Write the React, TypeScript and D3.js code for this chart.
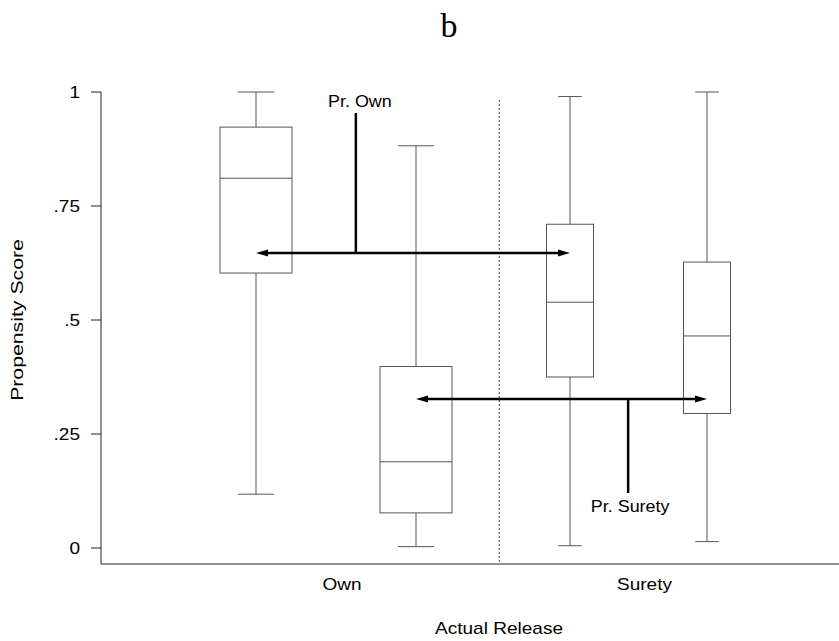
import React from "react";
import * as d3 from "d3";

// ---- data ----
const groups = ["Own", "Surety"];
const seriesNames = ["Pr. Own", "Pr. Surety"];
const boxGroup = ["Own", "Own", "Surety", "Surety"];
const boxSeries = ["Pr. Own", "Pr. Surety", "Pr. Own", "Pr. Surety"];
const whiskerLow = [0.118, 0.003, 0.005, 0.014];
const q1 = [0.603, 0.077, 0.375, 0.295];
const median = [0.811, 0.189, 0.539, 0.465];
const q3 = [0.923, 0.398, 0.71, 0.627];
const whiskerHigh = [1.0, 0.882, 0.99, 1.0];
const arrowValues = [0.647, 0.327]; // Pr. Own, Pr. Surety
const yTicks = [0, 0.25, 0.5, 0.75, 1];
const yTickLabels = ["0", ".25", ".5", ".75", "1"];

// ---- layout ----
const W = 839;
const H = 641;
const axisX = 101;
const axisBottom = 564;
const SX = 1.12; // horizontal text stretch
const FONT = "'Liberation Sans', Arial, Helvetica, sans-serif";
const innerHalf: Record<string, number> = { Own: 80, Surety: 68.5 };
const boxWidth: Record<string, number> = { Own: 72, Surety: 47 };

const y = d3.scaleLinear().domain([0, 1]).range([548, 92]);
const xGroup = d3.scaleBand().domain(groups).range([184.75, 789.75]);
const groupCenter = (g: string) => (xGroup(g) as number) + xGroup.bandwidth() / 2;
const boxX = (i: number) => {
  const g = boxGroup[i];
  const inner = d3.scalePoint().domain(seriesNames).range([-innerHalf[g], innerHalf[g]]);
  return groupCenter(g) + (inner(boxSeries[i]) as number);
};

function T(props: { x: number; y: number; anchor?: string; size?: number; rotate?: number; children: any; family?: string; sx?: number }) {
  const { x, y: yy, anchor = "middle", size = 17, rotate = 0, family = FONT, sx = SX } = props;
  return (
    <text
      transform={`translate(${x},${yy}) rotate(${rotate}) scale(${sx},1)`}
      textAnchor={anchor}
      fontFamily={family}
      fontSize={size}
      fill="#000"
    >
      {props.children}
    </text>
  );
}

function Arrow({ x1, x2, yv }: { x1: number; x2: number; yv: number }) {
  const len = 12;
  const hw = 3.5;
  return (
    <g>
      <line x1={x1 + len - 1} x2={x2 - len + 1} y1={yv} y2={yv} stroke="#000" strokeWidth={2.5} />
      <path d={`M${x1},${yv} L${x1 + len},${yv - hw} L${x1 + len},${yv + hw} Z`} fill="#000" />
      <path d={`M${x2},${yv} L${x2 - len},${yv - hw} L${x2 - len},${yv + hw} Z`} fill="#000" />
    </g>
  );
}

export default function App() {
  const idx = d3.range(boxGroup.length);
  const ownRightEdge = boxX(1) + boxWidth["Own"] / 2;
  const suretyLeftEdge = boxX(2) - boxWidth["Surety"] / 2;
  const dividerX = (ownRightEdge + suretyLeftEdge) / 2;

  // arrows: connect same-series boxes across groups
  const ownA = { x1: boxX(0), x2: boxX(2), yv: y(arrowValues[0]) };
  const surA = { x1: boxX(1), x2: boxX(3), yv: y(arrowValues[1]) };
  const ownStemX = ownA.x1 + (ownA.x2 - ownA.x1) * 0.318;
  const surStemX = surA.x1 + (surA.x2 - surA.x1) * 0.729;

  return (
    <svg width={W} height={H} style={{ position: "absolute", left: 0, top: 0, background: "#fff" }}>
      <rect width={W} height={H} fill="#fff" />
      {/* title */}
      <T x={449} y={37} size={34} family="'Liberation Serif', 'Times New Roman', serif" sx={1}>
        b
      </T>

      {/* axes */}
      <line x1={axisX} x2={axisX} y1={y(1)} y2={axisBottom} stroke="#222" strokeWidth={1} />
      <line x1={axisX} x2={W} y1={axisBottom} y2={axisBottom} stroke="#222" strokeWidth={1} />
      {yTicks.map((t, i) => (
        <g key={i}>
          <line x1={axisX - 10} x2={axisX} y1={y(t)} y2={y(t)} stroke="#222" strokeWidth={1} />
          <T x={80} y={y(t) + 6} anchor="end">
            {yTickLabels[i]}
          </T>
        </g>
      ))}
      <T x={23} y={(y(0) + y(1)) / 2} rotate={-90} sx={1.25}>
        Propensity Score
      </T>
      {groups.map((g) => (
        <T key={g} x={groupCenter(g) + 6} y={590}>
          {g}
        </T>
      ))}
      <T x={499} y={634}>
        Actual Release
      </T>

      {/* divider */}
      <line x1={dividerX} x2={dividerX} y1={100} y2={axisBottom} stroke="#444" strokeWidth={1} strokeDasharray="2,2" />

      {/* boxes */}
      {idx.map((i) => {
        const cx = boxX(i);
        const bw = boxWidth[boxGroup[i]];
        const cap = bw / 2;
        return (
          <g key={i} stroke="#555" strokeWidth={1} fill="none">
            <line x1={cx} x2={cx} y1={y(whiskerHigh[i])} y2={y(q3[i])} />
            <line x1={cx} x2={cx} y1={y(q1[i])} y2={y(whiskerLow[i])} />
            <line x1={cx - cap / 2} x2={cx + cap / 2} y1={y(whiskerHigh[i])} y2={y(whiskerHigh[i])} />
            <line x1={cx - cap / 2} x2={cx + cap / 2} y1={y(whiskerLow[i])} y2={y(whiskerLow[i])} />
            <rect x={cx - bw / 2} y={y(q3[i])} width={bw} height={y(q1[i]) - y(q3[i])} fill="none" />
            <line x1={cx - bw / 2} x2={cx + bw / 2} y1={y(median[i])} y2={y(median[i])} />
          </g>
        );
      })}

      {/* arrows */}
      <Arrow {...ownA} />
      <line x1={ownStemX} x2={ownStemX} y1={113} y2={ownA.yv} stroke="#000" strokeWidth={2.5} />
      <T x={ownStemX + 4} y={107} size={16}>
        {seriesNames[0]}
      </T>
      <Arrow {...surA} />
      <line x1={surStemX} x2={surStemX} y1={surA.yv} y2={493} stroke="#000" strokeWidth={2.5} />
      <T x={surStemX + 2} y={512} size={16}>
        {seriesNames[1]}
      </T>
    </svg>
  );
}
